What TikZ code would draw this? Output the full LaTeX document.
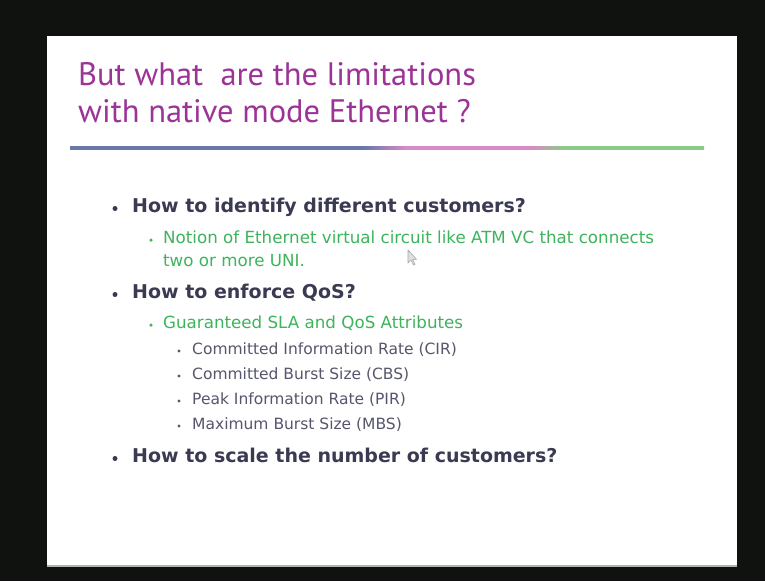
\documentclass[tikz,border=0pt]{standalone}
\usepackage{fontspec}
\setmainfont{DejaVu Sans}
\newfontfamily\titlefont{PT Sans}
\definecolor{screen}{HTML}{101210}
\definecolor{titlepurple}{HTML}{9C3498}
\definecolor{bodyslate}{HTML}{3A3A52}
\definecolor{subgreen}{HTML}{3DB45C}
\definecolor{subslate}{HTML}{56566C}
\definecolor{ruleblue}{HTML}{6A78A8}
\definecolor{rulepink}{HTML}{D98AC8}
\definecolor{rulegreen}{HTML}{8ACB8A}
% blue -> pink -> green bar under the title (path maps to 25bp..75bp)
\pgfdeclarehorizontalshading{titlerule}{100bp}{%
  color(0bp)=(ruleblue); color(48.2bp)=(ruleblue);
  color(51.5bp)=(rulepink); color(61.2bp)=(rulepink);
  color(64bp)=(rulegreen); color(100bp)=(rulegreen)}
\begin{document}
\begin{tikzpicture}[x=1pt,y=-1pt,
  titletext/.style={anchor=mid west,inner sep=0pt,text=titlepurple,font=\titlefont\fontsize{32.5}{34}\selectfont},
  lvlone/.style={anchor=mid west,inner sep=0pt,text=bodyslate,font=\bfseries\fontsize{19}{21}\selectfont},
  lvltwo/.style={anchor=mid west,inner sep=0pt,text=subgreen,font=\fontsize{16.7}{18}\selectfont},
  lvlthree/.style={anchor=mid west,inner sep=0pt,text=subslate,font=\fontsize{15.5}{17}\selectfont},
  dotone/.style={circle,fill=bodyslate,inner sep=0pt,minimum size=5pt},
  dottwo/.style={circle,fill=subgreen,inner sep=0pt,minimum size=3.5pt},
  dotthree/.style={circle,fill=subslate,inner sep=0pt,minimum size=3.2pt}]
\useasboundingbox (0,0) rectangle (765,581);
% screen and slide
\fill[screen] (0,0) rectangle (765,581);
\fill[white] (47,36) rectangle (737,565);
\fill[gray!60] (47,565) rectangle (737,567);
% title
\node[titletext] (t1) at (78,83) {But what\ \ are the limitations};
\node[titletext] (t2) at (78,120) {with native mode Ethernet ?};
% coloured rule under the title
\shade[shading=titlerule] (70,146.5) rectangle (704,149.5);
% bullet list
\node[dotone] (b1) at (115,208.5) {};
\node[lvlone] (q1) at (132,210) {How to identify different customers?};
\node[dottwo] (b1a) at (151,240) {};
\node[lvltwo] (q1a) at (163,241) {Notion of Ethernet virtual circuit like ATM VC that connects};
\node[lvltwo] (q1b) at (163,264) {two or more UNI.};
\node[dotone] (b2) at (115,294.5) {};
\node[lvlone] (q2) at (132,296) {How to enforce QoS?};
\node[dottwo] (b2a) at (151,325) {};
\node[lvltwo] (q2a) at (163,326) {Guaranteed SLA and QoS Attributes};
\node[dotthree] (c1) at (179,351) {};
\node[lvlthree] (r1) at (192,352) {Committed Information Rate (CIR)};
\node[dotthree] (c2) at (179,376) {};
\node[lvlthree] (r2) at (192,377) {Committed Burst Size (CBS)};
\node[dotthree] (c3) at (179,401) {};
\node[lvlthree] (r3) at (192,402) {Peak Information Rate (PIR)};
\node[dotthree] (c4) at (179,426) {};
\node[lvlthree] (r4) at (192,427) {Maximum Burst Size (MBS)};
\node[dotone] (b3) at (115,458.5) {};
\node[lvlone] (q3) at (132,460) {How to scale the number of customers?};
% mouse pointer resting near the first sub-item
\filldraw[draw=gray!70,fill=gray!25,line width=0.6pt,line join=round]
  (408,250) -- (408,263) -- (411,260) -- (413.5,265) -- (415,264.3) -- (412.6,259.5) -- (416.5,259.3) -- cycle;
\end{tikzpicture}
\end{document}
